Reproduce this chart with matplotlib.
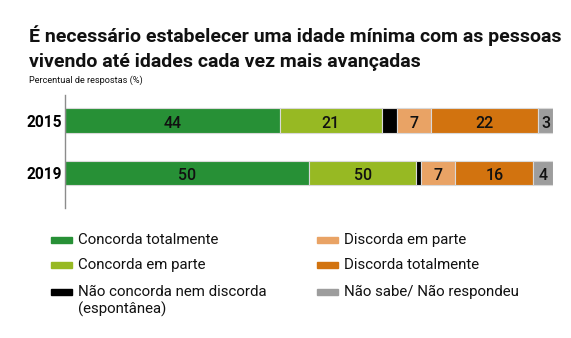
import matplotlib.pyplot as plt
from matplotlib.patches import Rectangle

plt.rcParams['font.family'] = ['Roboto', 'DejaVu Sans']

years = ['2015', '2019']
categories = ['Concorda totalmente', 'Concorda em parte',
              'Não concorda nem discorda\n(espontânea)',
              'Discorda em parte', 'Discorda totalmente',
              'Não sabe/ Não respondeu']
colors = ['#279036', '#97b923', '#000000', '#e9a365', '#d2730f', '#9d9d9d']

values_2015 = [44, 21, 3, 7, 22, 3]
values_2019 = [50, 22, 1, 7, 16, 4]
# labels as printed in the survey release (black segment is not labelled)
labels_2015 = ['44', '21', '', '7', '22', '3']
labels_2019 = ['50', '50', '', '7', '16', '4']

values = [values_2015, values_2019]
labels = [labels_2015, labels_2019]

W, H = 571, 338
fig = plt.figure(figsize=(W / 100, H / 100), dpi=100)

# bars
ax = fig.add_axes([65 / W, 1 - 208 / H, 488 / W, 113 / H])
for i, row in enumerate(values):
    left = 0
    for j, v in enumerate(row):
        ax.barh(i, v, left=left, height=0.476, color=colors[j],
                edgecolor='#d9d9d9', linewidth=0.8)
        if labels[i][j]:
            ax.text(left + v / 2, i + 0.05, labels[i][j], ha='center',
                    va='center', fontsize=11.5, fontweight='medium',
                    color='#111111')
        left += v

ax.set_xlim(0, 100)
ax.set_ylim(1.667, -0.486)
ax.set_yticks(range(len(years)))
ax.set_yticklabels(years, fontsize=11.2, fontweight='bold')
ax.tick_params(axis='y', length=0, pad=2)
ax.set_xticks([])
for s in ['top', 'right', 'bottom']:
    ax.spines[s].set_visible(False)
ax.spines['left'].set_color('#8c8c8c')
ax.spines['left'].set_linewidth(1.0)

# title block
title_lines = ['É necessário estabelecer uma idade mínima com as pessoas',
               'vivendo até idades cada vez mais avançadas']
for k, line in enumerate(title_lines):
    fig.text(29 / W, 1 - (42 + 25 * k) / H, line, fontsize=14,
             fontweight='bold', va='baseline', ha='left', color='#111111')
fig.text(29 / W, 1 - 83 / H, 'Percentual de respostas (%)', fontsize=6.6,
         va='baseline', ha='left', color='#111111')

# legend, two columns
legend_pos = [(51, 240), (51, 265), (51, 292), (317, 240), (317, 265), (317, 292)]
for (x, y), cat, c in zip(legend_pos, categories, colors):
    fig.add_artist(Rectangle((x / W, 1 - (y + 3) / H), 21 / W, 6 / H,
                             transform=fig.transFigure, color=c))
    for k, line in enumerate(cat.split('\n')):
        fig.text((x + 27) / W, 1 - (y + 17 * k) / H, line, fontsize=10.8,
                 va='center', ha='left', color='#111111')

fig.savefig('out.png', dpi=100)
